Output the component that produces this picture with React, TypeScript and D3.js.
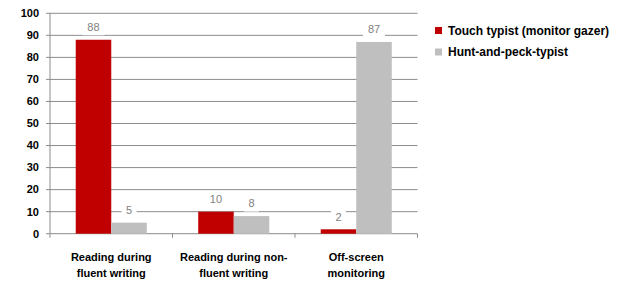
import React from "react";
import * as d3 from "d3";

const categories = [
  ["Reading during", "fluent writing"],
  ["Reading during non-", "fluent writing"],
  ["Off-screen", "monitoring"],
];
const seriesNames = ["Touch typist (monitor gazer)", "Hunt-and-peck-typist"];
const touchValues = [88, 10, 2];
const huntValues = [5, 8, 87];
const yTicks = [0, 10, 20, 30, 40, 50, 60, 70, 80, 90, 100];
const colors = ["#C00000", "#BFBFBF"];

export default function App() {
  const W = 629, H = 284;
  const left = 50, right = 417.5, top = 13.3, bottom = 233.7;
  const x = d3.scaleBand<number>().domain([0, 1, 2]).range([left, right]).paddingInner(0).paddingOuter(0);
  const y = d3.scaleLinear().domain([0, 100]).range([bottom, top]);
  const bw = x.bandwidth();
  const barW = bw * 0.29;
  const inner = d3.scaleBand<number>().domain([0, 1]).range([bw * 0.21, bw * 0.21 + barW * 2]);
  const series = [touchValues, huntValues];
  const font = "Liberation Sans, Arial, sans-serif";

  return (
    <svg width={W} height={H} style={{ position: "absolute", left: 0, top: 0 }} fontFamily={font}>
      <rect width={W} height={H} fill="#fff" />
      {yTicks.map((t) => (
        <g key={t}>
          {t > 0 && <line x1={left} x2={right} y1={y(t)} y2={y(t)} stroke="#8c8c8c" strokeWidth={1} />}
          <line x1={left - 4} x2={left} y1={y(t)} y2={y(t)} stroke="#8c8c8c" />
          <text x={39} y={y(t)} dy="0.35em" textAnchor="end" fontSize={11} fontWeight="bold" fill="#000">
            {t}
          </text>
        </g>
      ))}
      <line x1={left} x2={left} y1={top} y2={bottom} stroke="#8c8c8c" />
      <line x1={left} x2={right} y1={bottom} y2={bottom} stroke="#8c8c8c" />
      {[0, 1, 2, 3].map((i) => {
        const xx = left + i * bw;
        return <line key={i} x1={xx} x2={xx} y1={bottom} y2={bottom + 4} stroke="#8c8c8c" />;
      })}
      {series.map((vals, s) =>
        vals.map((v, i) => (
          <rect
            key={`${s}-${i}`}
            x={(x(i) as number) + (inner(s) as number)}
            y={y(v)}
            width={inner.bandwidth()}
            height={bottom - y(v)}
            fill={colors[s]}
          />
        ))
      )}
      {series.map((vals, s) =>
        vals.map((v, i) => {
          const cx = (x(i) as number) + (inner(s) as number) + inner.bandwidth() / 2;
          const cy = y(v) - 12.5;
          const w = String(v).length * 7 + 8;
          return (
            <g key={`l${s}-${i}`}>
              <rect x={cx - w / 2} y={cy - 8} width={w} height={16} fill="#fff" />
              <text x={cx} y={cy} dy="0.35em" textAnchor="middle" fontSize={11} fill="#808080">
                {v}
              </text>
            </g>
          );
        })
      )}
      {categories.map((lines, i) => (
        <text key={i} textAnchor="middle" fontSize={11} fontWeight="bold" fill="#000">
          {lines.map((ln, j) => (
            <tspan key={j} x={(x(i) as number) + bw / 2} y={260.5 + j * 16.5}>
              {ln}
            </tspan>
          ))}
        </text>
      ))}
      {seriesNames.map((n, s) => (
        <g key={n} transform={`translate(435, ${30.5 + s * 21.5})`}>
          <rect x={0} y={-3.5} width={7} height={7} fill={colors[s]} />
          <text x={13} y={0} dy="0.35em" fontSize={12} fontWeight="bold" fill="#000">
            {n}
          </text>
        </g>
      ))}
    </svg>
  );
}
